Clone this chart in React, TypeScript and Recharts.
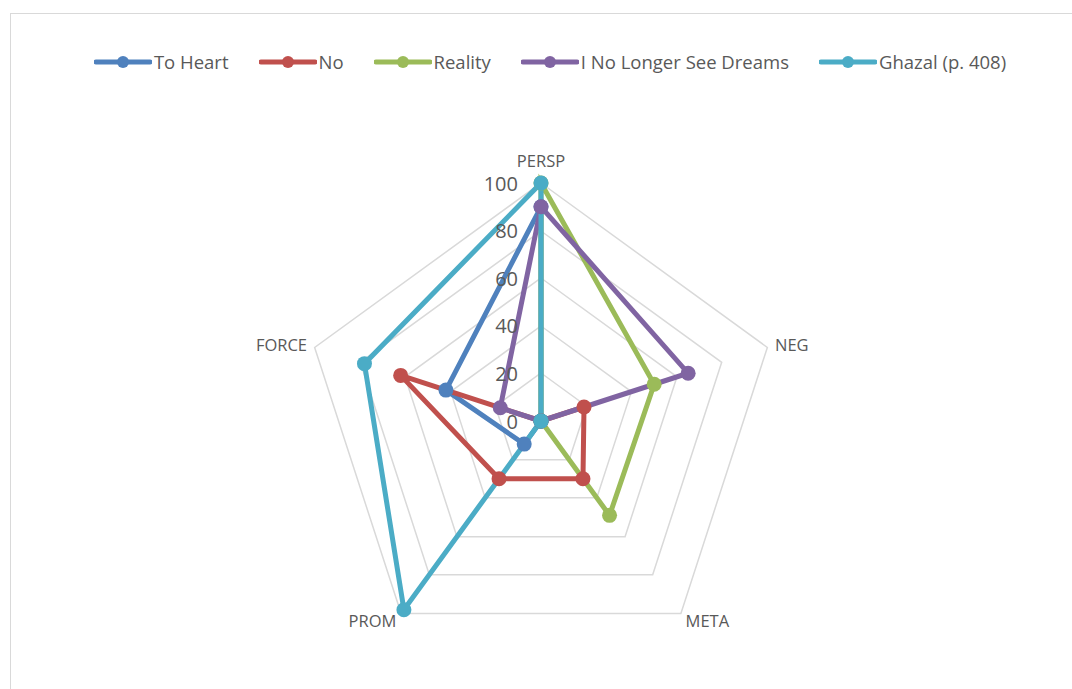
import React from "react";
import { RadarChart, Radar, PolarGrid, PolarAngleAxis, PolarRadiusAxis } from "recharts";

const categories = ["PERSP", "NEG", "META", "PROM", "FORCE"];

const toHeart = [90, 0, 0, 12, 42];
const no = [0, 19, 30, 30, 62];
const reality = [100, 50, 49, 0, 0];
const dreams = [90, 65, 0, 0, 18];
const ghazal = [100, 0, 0, 98, 78];

const radiusTicks = [0, 20, 40, 60, 80, 100];

const SERIES = [
  { key: "toHeart", name: "To Heart", color: "#4F81BD", values: toHeart },
  { key: "no", name: "No", color: "#C0504D", values: no },
  { key: "reality", name: "Reality", color: "#9BBB59", values: reality },
  { key: "dreams", name: "I No Longer See Dreams", color: "#8064A2", values: dreams },
  { key: "ghazal", name: "Ghazal (p. 408)", color: "#4BACC6", values: ghazal },
];

const FONT = "'Open Sans', 'Liberation Sans', sans-serif";
const TEXT = "#595959";

const data = categories.map((c, i) => {
  const row: Record<string, string | number> = { cat: c };
  SERIES.forEach((s) => {
    row[s.key] = s.values[i];
  });
  return row;
});

function AngleTick(props: any) {
  const { x, y, textAnchor, payload } = props;
  const dy = textAnchor === "middle" ? -15 : 0;
  return (
    <text
      x={x}
      y={y + dy}
      textAnchor={textAnchor}
      dominantBaseline="central"
      fill={TEXT}
      fontSize={16.5}
      fontFamily={FONT}
    >
      {payload.value}
    </text>
  );
}

function RadiusTick(props: any) {
  const { x, y, payload } = props;
  return (
    <text
      x={x - 23}
      y={y}
      textAnchor="end"
      dominantBaseline="central"
      fill={TEXT}
      fontSize={20}
      fontFamily={FONT}
    >
      {payload.value}
    </text>
  );
}

function LegendRow() {
  return (
    <div
      style={{
        position: "absolute",
        top: 49,
        left: 0,
        width: 1100,
        display: "flex",
        justifyContent: "center",
        gap: 30,
        fontFamily: FONT,
        fontSize: 18.5,
        color: TEXT,
      }}
    >
      {SERIES.map((s) => (
        <div key={s.key} style={{ display: "flex", alignItems: "center" }}>
          <svg width={58} height={22} style={{ marginRight: 2 }}>
            <line x1={2} y1={11} x2={56} y2={11} stroke={s.color} strokeWidth={5} strokeLinecap="round" />
            <circle cx={29} cy={11} r={6} fill={s.color} />
          </svg>
          <span>{s.name}</span>
        </div>
      ))}
    </div>
  );
}

export default function App() {
  return (
    <div
      style={{
        position: "absolute",
        left: 0,
        top: 0,
        width: 1072,
        height: 689,
        overflow: "hidden",
        background: "#fff",
      }}
    >
      <div
        style={{
          position: "absolute",
          left: 10,
          top: 13,
          width: 1100,
          height: 720,
          border: "1.5px solid #d9d9d9",
        }}
      />
      <LegendRow />
      <div style={{ position: "absolute", left: 0, top: 0 }}>
        <RadarChart
          width={1072}
          height={689}
          data={data}
          cx={541}
          cy={421}
          outerRadius={238}
          margin={{ top: 0, right: 0, bottom: 0, left: 0 }}
        >
          <PolarGrid gridType="polygon" radialLines={false} stroke="#d9d9d9" strokeWidth={1.5} polarRadius={[48, 95, 143, 190, 238]} />
          <PolarAngleAxis dataKey="cat" tick={AngleTick} tickLine={false} axisLine={false} />
          <PolarRadiusAxis
            angle={90}
            domain={[0, 100]}
            ticks={radiusTicks as any}
            tickCount={6}
            tick={RadiusTick}
            axisLine={false}
          />
          {SERIES.map((s) => (
            <Radar
              key={s.key}
              name={s.name}
              dataKey={s.key}
              stroke={s.color}
              strokeWidth={5}
              fill="none"
              fillOpacity={0}
              dot={(p: any) => <circle key={`${s.key}-${p.index}`} cx={p.cx} cy={p.cy} r={7.5} fill={s.color} />}
              isAnimationActive={false}
            />
          ))}
        </RadarChart>
      </div>
    </div>
  );
}
